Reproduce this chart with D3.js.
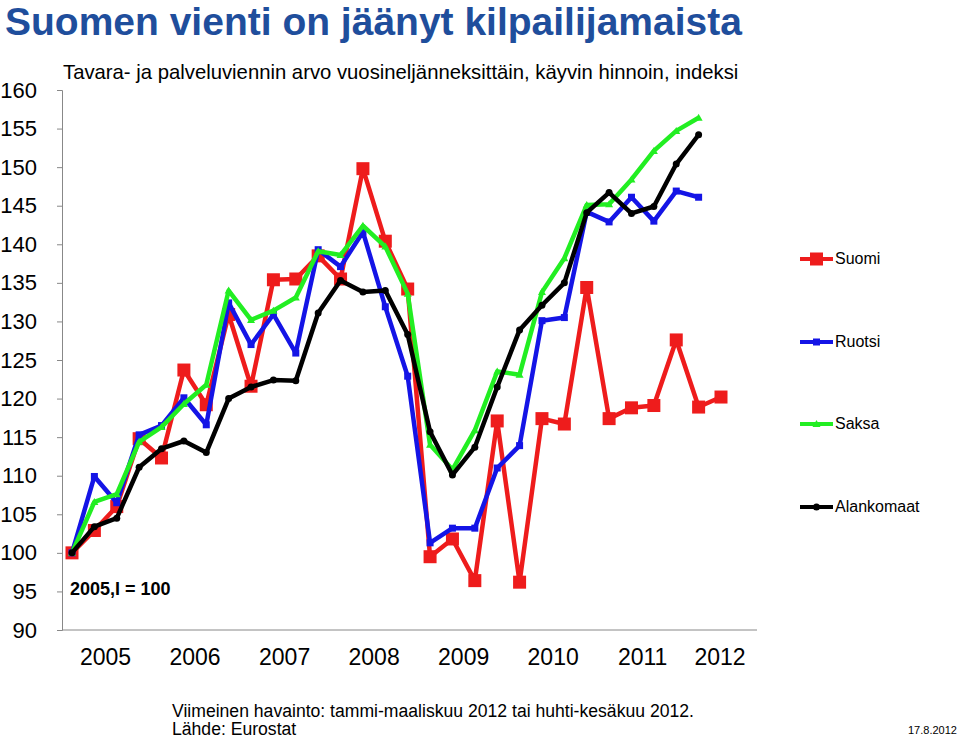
<!DOCTYPE html>
<html><head><meta charset="utf-8">
<script src="https://cdn.jsdelivr.net/npm/d3@7"></script>
<style>body{margin:0;background:#fff;font-family:"Liberation Sans",Arial,sans-serif}</style>
</head><body><div id="box"></div>
<script>
const years = ["2005","2006","2007","2008","2009","2010","2011","2012"];
const yTicks = [90,95,100,105,110,115,120,125,130,135,140,145,150,155,160];
const suomi = [100,102.9,106,114.8,112.3,123.7,119.2,130.9,121.6,135.4,135.5,138.5,135.5,149.8,140.4,134.2,99.5,101.8,96.4,117.1,96.2,117.4,116.7,134.4,117.4,118.8,119.1,127.6,118.9,120.2];
const ruotsi = [100,109.9,106.5,115.3,116.5,120.1,116.6,132.4,127,130.9,125.9,139.3,137.1,141.6,131.9,122.9,101.3,103.2,103.2,111,113.9,130.1,130.5,144.2,142.9,146.1,143,146.9,146.1];
const saksa = [100,106.6,107.6,114.4,116.3,119.3,121.8,134,130.2,131.4,133.1,139.1,138.6,142.4,139.7,133.6,114,110.8,115.9,123.5,123.1,133.8,138.2,145.1,145.2,148.4,152.1,154.7,156.4];
const alankomaat = [100,103.4,104.5,111.1,113.5,114.5,113,120,121.5,122.4,122.3,131.1,135.3,133.8,134,128.3,115.7,110.1,113.7,121.5,128.9,132.1,135,144.1,146.7,144,144.9,150.4,154.2];

const series = [
  {name:"Suomi", data:suomi, color:"#ee1c1c", marker:"bigsquare"},
  {name:"Ruotsi", data:ruotsi, color:"#1414e6", marker:"square"},
  {name:"Saksa", data:saksa, color:"#22ee22", marker:"tri"},
  {name:"Alankomaat", data:alankomaat, color:"#000000", marker:"circle"}
];

const svg = d3.select("#box").append("svg").attr("width",960).attr("height",740);
// quarter index scale: first quarter at 72px, 30th at 721px
const x = d3.scaleLinear().domain([0.5,29.5]).range([72,721]);
const xq = i => x(i + 0.5);
const y = d3.scaleLinear().domain([90,160]).range([630,90]);

svg.append("text").attr("x",5).attr("y",35).attr("font-size",39).attr("font-weight","bold")
  .attr("fill","#1f4e9c").text("Suomen vienti on jäänyt kilpailijamaista");
svg.append("text").attr("x",63).attr("y",79).attr("font-size",20.3)
  .text("Tavara- ja palveluviennin arvo vuosineljänneksittäin, käyvin hinnoin, indeksi");

// axes
svg.append("g").attr("transform","translate(62,0)")
  .call(d3.axisLeft(y).tickValues(yTicks).tickSize(5).tickPadding(20))
  .call(g=>g.selectAll("text").attr("font-size",22).attr("font-family","Liberation Sans, Arial"))
  .call(g=>g.selectAll("line,path").attr("stroke","#888"));
svg.append("line").attr("x1",62).attr("x2",757).attr("y1",630).attr("y2",630).attr("stroke","#888");
svg.append("g").selectAll("text").data(years).join("text")
  .attr("x",(d,i)=> i < 7 ? x(i*4+2) : 720).attr("y",665).attr("text-anchor","middle").attr("font-size",23).text(d=>d);

const line = d3.line().x((d,i)=>xq(i)).y(d=>y(d));
function marker(g, type, color, cx, cy){
  if(type==="bigsquare") g.append("rect").attr("x",cx-6.5).attr("y",cy-6.5).attr("width",13).attr("height",13).attr("fill",color);
  else if(type==="square") g.append("rect").attr("x",cx-3.5).attr("y",cy-3.5).attr("width",7).attr("height",7).attr("fill",color);
  else if(type==="tri") g.append("path").attr("d",`M${cx-4},${cy+3}L${cx+4},${cy+3}L${cx},${cy-4}Z`).attr("fill",color);
  else g.append("circle").attr("cx",cx).attr("cy",cy).attr("r",3.5).attr("fill",color);
}
series.forEach(s=>{
  const g = svg.append("g");
  g.append("path").attr("d",line(s.data)).attr("fill","none").attr("stroke",s.color).attr("stroke-width",4.5).attr("stroke-linejoin","round");
  s.data.forEach((v,i)=>marker(g,s.marker,s.color,xq(i),y(v)));
});

// legend
const ly = [259,342,424,507];
series.forEach((s,i)=>{
  const g = svg.append("g");
  g.append("line").attr("x1",800).attr("x2",833).attr("y1",ly[i]).attr("y2",ly[i]).attr("stroke",s.color).attr("stroke-width",4);
  marker(g,s.marker,s.color,816.5,ly[i]);
  g.append("text").attr("x",835).attr("y",ly[i]+5).attr("font-size",16).text(s.name);
});

svg.append("text").attr("x",70).attr("y",595).attr("font-size",18).attr("font-weight","bold").text("2005,I = 100");
svg.append("text").attr("x",172).attr("y",717).attr("font-size",17.6).text("Viimeinen havainto: tammi-maaliskuu 2012 tai huhti-kesäkuu 2012.");
svg.append("text").attr("x",172).attr("y",735).attr("font-size",17.6).text("Lähde: Eurostat");
svg.append("text").attr("x",908).attr("y",734).attr("font-size",11).text("17.8.2012");
</script></body></html>
